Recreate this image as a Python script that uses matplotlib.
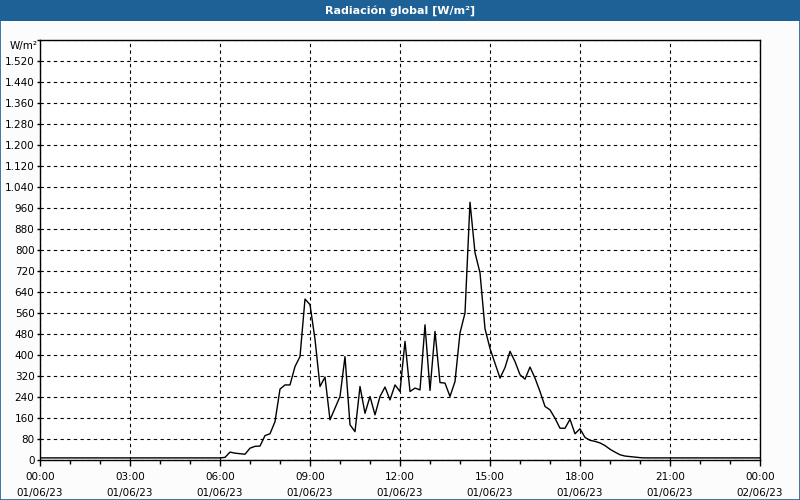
import numpy as np
import pandas as pd
import matplotlib
matplotlib.use("Agg")
import matplotlib.pyplot as plt
import matplotlib.dates as mdates
from matplotlib.ticker import FuncFormatter, MultipleLocator
from matplotlib.patches import Rectangle

# 10-minute samples from 01/06/23 00:00 to 02/06/23 00:00
times = pd.date_range("2023-06-01 00:00", "2023-06-02 00:00", freq="10min")

# global radiation [W/m2]
night_am = [8, 8, 8, 8, 8, 8, 8, 8, 8, 8, 8, 8,
            8, 8, 8, 8, 8, 8, 8, 8, 8, 8, 8, 8,
            8, 8, 8, 8, 8, 8, 8, 8, 8, 8, 8, 8]
day = [8, 10, 30, 26, 24, 22, 45, 52, 53, 93, 100, 146,
       270, 286, 286, 356, 394, 613, 592, 460, 280, 316, 153, 197,
       242, 394, 134, 108, 280, 178, 242, 172, 242, 278, 229, 286,
       261, 452, 261, 274, 267, 515, 265, 490, 295, 293, 242, 299,
       484, 560, 982, 790, 713, 500, 425, 369, 312, 352, 414, 375,
       325, 308, 354, 312, 261, 204, 191, 159, 121, 121, 155, 100,
       119, 86, 75, 71, 65, 55, 41, 30, 20, 15, 13, 11]
night_pm = [9, 8, 8, 8, 8, 8, 8, 8, 8, 8, 8, 8,
            8, 8, 8, 8, 8, 8, 8, 8, 8, 8, 8, 8, 8]
radiation = night_am + day + night_pm

title = "Radiación global [W/m²]"
unit = "W/m²"
y_max = 1600
y_step = 80

plt.rcParams["font.family"] = ["DejaVu Sans"]

fig = plt.figure(figsize=(8, 5), dpi=100, facecolor="#fbfcfb")
ax = fig.add_axes([0.05, 0.08, 0.90, 0.84])
ax.set_facecolor("white")

ax.plot(times, radiation, color="black", linewidth=1.0)

ax.set_xlim(times[0], times[-1])
ax.set_ylim(0, y_max)

ax.yaxis.set_major_locator(MultipleLocator(y_step))
ax.yaxis.set_major_formatter(FuncFormatter(
    lambda v, p: "" if v >= y_max else f"{int(v):,}".replace(",", ".")))
ax.xaxis.set_major_locator(mdates.HourLocator(byhour=range(0, 24, 3)))
ax.xaxis.set_minor_locator(mdates.HourLocator())
ax.xaxis.set_major_formatter(mdates.DateFormatter("%H:%M\n%d/%m/%y"))

ax.tick_params(axis="both", labelsize=7.5, colors="black", width=1)
ax.tick_params(axis="x", which="major", length=4, pad=5)
ax.tick_params(axis="x", which="minor", length=3, width=1)
ax.tick_params(axis="y", length=2.5, pad=1.5)
for lab in ax.get_xticklabels():
    lab.set_linespacing(1.7)

ax.grid(True, which="major", color="black", linestyle=(0, (3, 3)), linewidth=0.8)
for s in ax.spines.values():
    s.set_color("black")
    s.set_linewidth(1.0)

fig.text(38 / 800, 1 - 46 / 500, unit, ha="right", va="center", fontsize=7.5)

# title bar and window border
fig.patches.append(Rectangle((0, 1 - 21 / 500), 1, 21 / 500, transform=fig.transFigure,
                             facecolor="#1d6196", edgecolor="none", zorder=0))
fig.patches.append(Rectangle((0.0006, 0.001), 0.9988, 0.998, transform=fig.transFigure,
                             facecolor="none", edgecolor="#1d6196", linewidth=1.2))
fig.text(0.5, 1 - 10.5 / 500, title, ha="center", va="center", color="white",
         fontsize=8, fontweight="bold")

fig.savefig("out.png", dpi=100, facecolor=fig.get_facecolor())
